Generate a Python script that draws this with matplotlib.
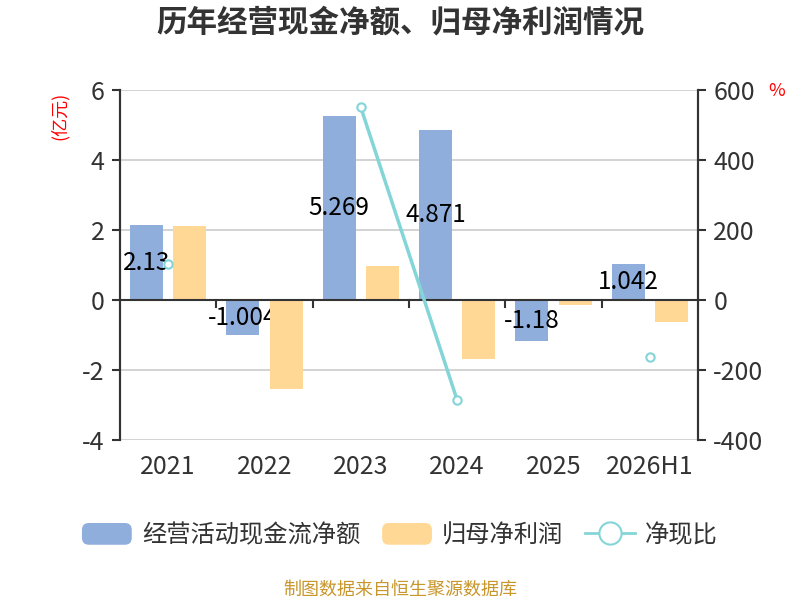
import matplotlib
matplotlib.use('Agg')
import matplotlib.pyplot as plt
import numpy as np
from matplotlib.patches import Patch, FancyBboxPatch
from matplotlib.lines import Line2D
from matplotlib.legend_handler import HandlerPatch

plt.rcParams['font.family'] = ['Noto Sans CJK SC', 'DejaVu Sans']
plt.rcParams['axes.unicode_minus'] = False

# Data
categories = ['2021', '2022', '2023', '2024', '2025', '2026H1']
cash_flow = [2.13, -1.004, 5.269, 4.871, -1.18, 1.042]       # 经营活动现金流净额 (亿元)
net_profit = [2.12, -2.54, 0.97, -1.69, -0.13, -0.63]         # 归母净利润 (亿元)
cash_ratio = [102, None, 550, -286, None, -162]               # 净现比 (%)

blue = '#8FAEDB'
orange = '#FFD895'
cyan = '#84D5D8'
axis_col = '#333333'


class RoundHandler(HandlerPatch):
    def create_artists(self, legend, orig_handle, xdescent, ydescent,
                       width, height, fontsize, trans):
        p = FancyBboxPatch((-xdescent, -ydescent), width, height,
                           boxstyle='round,pad=0,rounding_size=5',
                           fc=orig_handle.get_facecolor(), ec='none',
                           transform=trans)
        return [p]


fig = plt.figure(figsize=(8, 6), dpi=100)
ax = fig.add_axes([0.15, 0.2667, 0.7225, 0.5833])
ax2 = ax.twinx()

x = np.arange(len(categories))
w = 0.343
off = 0.225

ax.bar(x - off, cash_flow, width=w, color=blue, zorder=2)
for xi, v in zip(x, cash_flow):
    ax.text(xi - off, v / 2, '%g' % v, ha='center', va='center',
            fontsize=17.5, color='black', zorder=2.5)
ax.bar(x + off, net_profit, width=w, color=orange, zorder=3)

# ratio line on the right axis
ratio = np.array([np.nan if r is None else r for r in cash_ratio], dtype=float)
ax2.plot(x, ratio, color=cyan, lw=2.5, marker='o', markersize=6,
         markerfacecolor='white', markeredgecolor=cyan, markeredgewidth=1.5,
         zorder=5)

# axes limits and grid
ax.set_xlim(-0.5, len(categories) - 0.5)
ax.set_ylim(-4, 6)
ax.set_yticks([-4, -2, 0, 2, 4, 6])
ax2.set_ylim(-400, 600)
ax2.set_yticks([-400, -200, 0, 200, 400, 600])
ax.grid(axis='y', color='#cccccc', lw=1.2, zorder=0)
ax.set_axisbelow(True)

# zero line with category boundary ticks
ax.axhline(0, color=axis_col, lw=1.5, zorder=4)
for b in range(1, len(categories)):
    ax.plot([b - 0.5, b - 0.5], [0, -0.2], color=axis_col, lw=1.5, zorder=4)

ax.set_xticks(x)
ax.set_xticklabels(categories)
ax.tick_params(axis='x', length=0, pad=10, labelsize=18, labelcolor=axis_col)
ax.tick_params(axis='y', length=6, width=1.5, color=axis_col, pad=5,
               labelsize=18, labelcolor=axis_col)
ax2.tick_params(axis='y', length=6, width=1.5, color=axis_col, pad=5,
                labelsize=18, labelcolor=axis_col)

for a in (ax, ax2):
    a.spines['top'].set_visible(False)
    a.spines['bottom'].set_visible(False)
    a.spines['left'].set_color(axis_col)
    a.spines['right'].set_color(axis_col)
    a.spines['left'].set_linewidth(1.5)
    a.spines['right'].set_linewidth(1.5)

# unit labels
fig.text(0.075, 0.807, '(亿元)', rotation=90, color='red', fontsize=13,
         ha='center', va='center')
fig.text(0.971, 0.848, '%', color='red', fontsize=13, ha='center', va='center')

# title
fig.text(0.5, 0.962, '历年经营现金净额、归母净利润情况', ha='center', va='center',
         fontsize=22, fontweight='bold', color='#333333')

# legend
handles = [Patch(facecolor=blue), Patch(facecolor=orange),
           Line2D([], [], color=cyan, lw=2, marker='o', markersize=16,
                  markerfacecolor='white', markeredgecolor=cyan,
                  markeredgewidth=1.5)]
labels = ['经营活动现金流净额', '归母净利润', '净现比']
fig.legend(handles, labels, loc='center', bbox_to_anchor=(0.5, 0.108), ncol=3,
           frameon=False, fontsize=17.5, handlelength=2.05, handleheight=1.0,
           handletextpad=0.42, columnspacing=0.9,
           labelcolor='#333333',
           handler_map={Patch: RoundHandler()})

# source
fig.text(0.5, 0.018, '制图数据来自恒生聚源数据库', ha='center', va='center',
         fontsize=13, color='#C8962A')

fig.savefig('out.png', dpi=100, facecolor='white')
